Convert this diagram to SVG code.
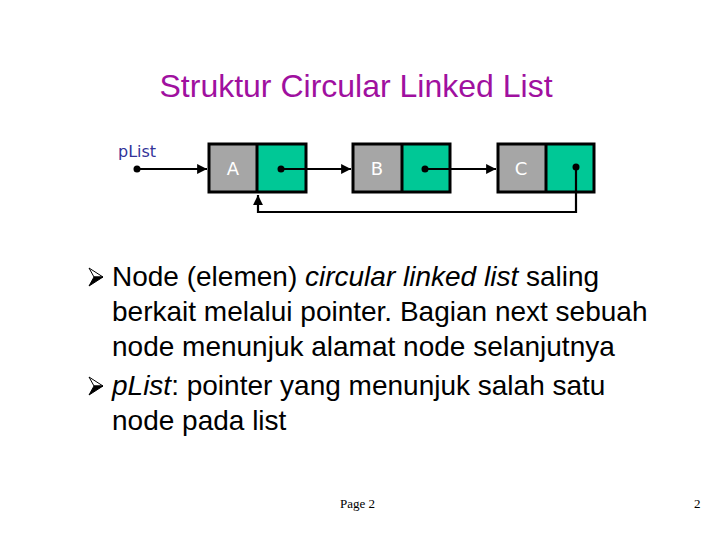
<svg xmlns="http://www.w3.org/2000/svg" width="720" height="540" viewBox="0 0 720 540">
<defs>
<marker id="ah" viewBox="0 0 10 10" refX="10" refY="5" markerWidth="4.5" markerHeight="4.5" orient="auto" markerUnits="strokeWidth">
<path d="M0,0 L10,5 L0,10 z" fill="#000"/>
</marker>
<style>
.data{fill:#A6A6A6;stroke:none}
.next{fill:#00C896;stroke:none}
.frame{fill:none;stroke:#000;stroke-width:3}
.div{stroke:#000;stroke-width:3}
.lbl{font-family:"DejaVu Sans",Verdana,sans-serif;font-size:18px;fill:#fff;text-anchor:middle}
.dot{fill:#000}
.con{fill:none;stroke:#000;stroke-width:2.2;marker-end:url(#ah)}
.body{font-family:"Liberation Sans",Arial,sans-serif;font-size:28px;fill:#000}
.foot{font-family:"Liberation Serif","Times New Roman",serif;font-size:13px;fill:#000}
</style>
</defs>
<rect width="720" height="540" fill="#fff"/>
<text x="356" y="97" text-anchor="middle" font-family="Liberation Sans, Arial, sans-serif" font-size="32" fill="#A0109F">Struktur Circular Linked List</text>
<g id="plist">
<text x="118" y="157" font-family="DejaVu Sans, Verdana, sans-serif" font-size="16" fill="#333399">pList</text>
<circle class="dot" cx="137" cy="169" r="3.5"/>
</g>
<g id="nodeA">
<rect class="data" x="209" y="144" width="48" height="48"/>
<rect class="next" x="257" y="144" width="49" height="48"/>
<rect class="frame" x="209" y="144" width="97" height="48"/>
<line class="div" x1="257" y1="144" x2="257" y2="192"/>
<text class="lbl" x="233" y="175">A</text>
<circle class="dot" cx="281" cy="169" r="3.5"/>
</g>
<g id="nodeB">
<rect class="data" x="353" y="144" width="49" height="48"/>
<rect class="next" x="402" y="144" width="48" height="48"/>
<rect class="frame" x="353" y="144" width="97" height="48"/>
<line class="div" x1="402" y1="144" x2="402" y2="192"/>
<text class="lbl" x="377" y="175">B</text>
<circle class="dot" cx="425" cy="169" r="3.5"/>
</g>
<g id="nodeC">
<rect class="data" x="498" y="144" width="48" height="48"/>
<rect class="next" x="546" y="144" width="48" height="48"/>
<rect class="frame" x="498" y="144" width="96" height="48"/>
<line class="div" x1="546" y1="144" x2="546" y2="192"/>
<text class="lbl" x="521" y="175">C</text>
<circle class="dot" cx="576" cy="167" r="3.5"/>
</g>
<g id="connectors">
<line class="con" x1="137" y1="169" x2="207" y2="169"/>
<line class="con" x1="281" y1="169" x2="351" y2="169"/>
<line class="con" x1="425" y1="169" x2="496" y2="169"/>
<polyline class="con" points="576,167 576,212 258,212 258,195"/>
</g>
<g id="bullets">
<polygon points="89,268 103,277 94,277" fill="#fff" stroke="#000" stroke-width="1"/>
<polygon points="94,277 103,277 89,286" fill="#000" stroke="#000" stroke-width="1"/>
<polygon points="89,377 103,386 94,386" fill="#fff" stroke="#000" stroke-width="1"/>
<polygon points="94,386 103,386 89,395" fill="#000" stroke="#000" stroke-width="1"/>
</g>
<g id="text">
<text class="body" x="112" y="286">Node (elemen) <tspan font-style="italic">circular linked list</tspan> saling</text>
<text class="body" x="112" y="321">berkait melalui pointer. Bagian next sebuah</text>
<text class="body" x="112" y="356">node menunjuk alamat node selanjutnya</text>
<text class="body" x="112" y="395"><tspan font-style="italic">pList</tspan>: pointer yang menunjuk salah satu</text>
<text class="body" x="112" y="430">node pada list</text>
</g>
<text class="foot" x="340" y="508">Page 2</text>
<text class="foot" x="694" y="508">2</text>
</svg>
